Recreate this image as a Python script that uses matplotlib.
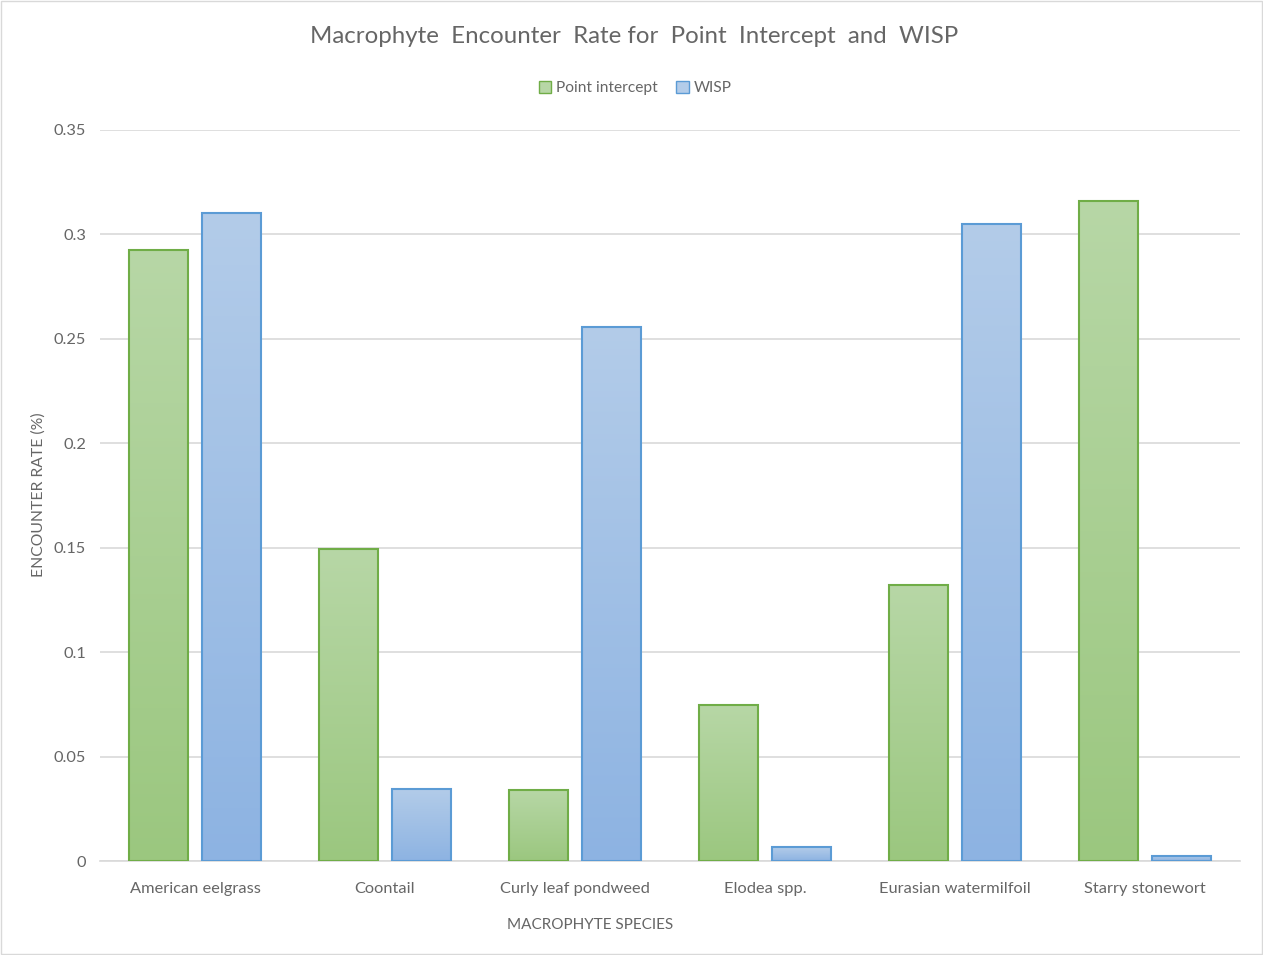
import numpy as np
import matplotlib

matplotlib.use("Agg")
import matplotlib.pyplot as plt
from matplotlib.colors import LinearSegmentedColormap
import matplotlib.patches as mpatches

# Encounter rates per species
species = [
    "American eelgrass",
    "Coontail",
    "Curly leaf pondweed",
    "Elodea spp.",
    "Eurasian watermilfoil",
    "Starry stonewort",
]
point_intercept = [0.2925, 0.1494, 0.0340, 0.0747, 0.1321, 0.3160]
wisp = [0.3103, 0.0345, 0.2557, 0.0067, 0.3050, 0.0024]
yticks = [0, 0.05, 0.1, 0.15, 0.2, 0.25, 0.3, 0.35]
ytick_labels = ["0", "0.05", "0.1", "0.15", "0.2", "0.25", "0.3", "0.35"]

plt.rcParams["font.family"] = ["Lato", "DejaVu Sans"]
TXT = "#666666"

# (top colour, bottom colour, edge colour)
series = [
    ("Point intercept", point_intercept, "#b7d7a6", "#9bc77f", "#70ad47", -0.192),
    ("WISP", wisp, "#b3cce9", "#8db3e2", "#5b9bd5", 0.192),
]
BAR_W = 0.31

fig = plt.figure(figsize=(12.63, 9.55), dpi=100)
ax = fig.add_axes([0.0792, 0.0984, 0.9026, 0.7655])

grad = np.linspace(0, 1, 256).reshape(-1, 1)
x = np.arange(len(species))
handles = []
for label, vals, top, bot, edge, off in series:
    cmap = LinearSegmentedColormap.from_list(label, [bot, top])
    for xi, v in zip(x + off, vals):
        ax.imshow(
            grad,
            cmap=cmap,
            origin="lower",
            aspect="auto",
            extent=[xi - BAR_W / 2, xi + BAR_W / 2, 0, v],
            zorder=2,
        )
    ax.bar(x + off, vals, BAR_W, facecolor="none", edgecolor=edge,
           linewidth=1.5, zorder=3)
    handles.append(mpatches.Patch(facecolor=top, edgecolor=edge, label=label))

ax.set_xlim(-0.5, len(species) - 0.5)
ax.set_ylim(0, 0.35)
ax.set_yticks(yticks)
ax.set_yticklabels(ytick_labels)
ax.set_xticks(x)
ax.set_xticklabels(species)
ax.tick_params(axis="both", length=0, colors=TXT, labelsize=11.8)
ax.tick_params(axis="y", pad=10)
ax.tick_params(axis="x", pad=15)
ax.grid(axis="y", color="#d9d9d9", linewidth=1.2, zorder=0)
ax.set_axisbelow(True)
for s in ["top", "right", "left"]:
    ax.spines[s].set_visible(False)
ax.spines["bottom"].set_color("#d9d9d9")
ax.spines["bottom"].set_linewidth(1.2)

fig.text(0.0302, 0.482, "ENCOUNTER RATE (%)", rotation=90, ha="center",
         va="center", color=TXT, fontsize=11.3)
fig.text(0.467, 0.031, "MACROPHYTE SPECIES", ha="center", va="center",
         color=TXT, fontsize=11)
fig.text(0.502, 0.962, "Macrophyte  Encounter  Rate for  Point  Intercept  and  WISP",
         ha="center", va="center", color=TXT, fontsize=17.3)

fig.legend(handles=handles, loc="center", bbox_to_anchor=(0.503, 0.908),
           ncol=2, frameon=False, fontsize=11.2, labelcolor=TXT,
           handlelength=0.8, handleheight=0.8, handletextpad=0.3,
           columnspacing=1.2)

fig.patches.append(mpatches.Rectangle((0.001, 0.001), 0.998, 0.998,
                                      transform=fig.transFigure, fill=False,
                                      edgecolor="#d9d9d9", linewidth=1))

fig.savefig("out.png", dpi=100)
